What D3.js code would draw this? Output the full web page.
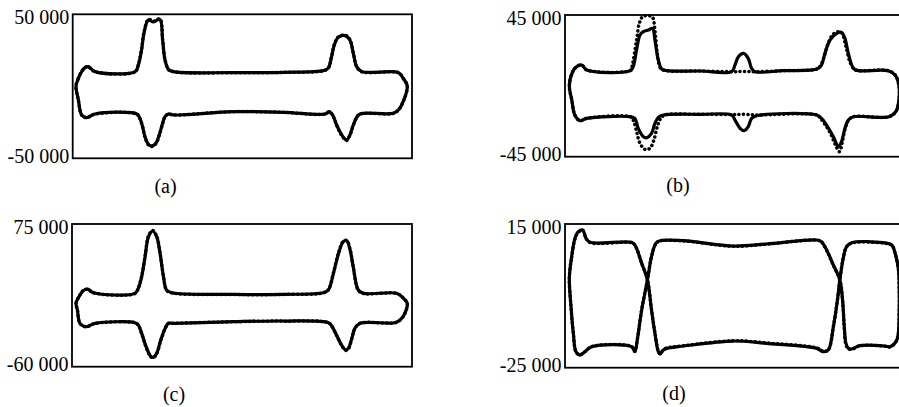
<!DOCTYPE html>
<html><head><meta charset="utf-8">
<script src="https://cdn.jsdelivr.net/npm/d3@7"></script>
<style>html,body{margin:0;padding:0;background:#fff;} svg{display:block;}</style>
</head><body><svg id="chart" width="899" height="407"></svg>
<script>
// ---------------- DATA ----------------
// x: position along the record (0–100 %), y: value
const panelNames = ["a", "b", "c", "d"];
const captions = ["(a)", "(b)", "(c)", "(d)"];

const aTicks = [-50000, 50000];
const bTicks = [-45000, 45000];
const cTicks = [-60000, 75000];
const dTicks = [-25000, 15000];

const aUpper = [[0.98,0],[1.67,5556],[2.65,10185],[3.63,12963],[4.62,13657],[6.58,10185],[18.4,10185],[19.35,14815],[20.3,25231],[21.0,36806],[22.3,46065],[23.8,44676],[25.7,46528],[26.5,32176],[27.2,18287],[28.2,11806],[29.7,10185],[47.3,9491],[62.1,9722],[73.9,10880],[75.3,12500],[76.3,20602],[77.1,28704],[78.3,34028],[80.3,35185],[81.7,32176],[82.7,22917],[83.7,13657],[85.2,10185],[96.0,9491],[97.4,5556],[98.6,231]];
const aLower = [[1.67,-9491],[2.65,-19907],[4.1,-21759],[6.58,-19213],[18.9,-19213],[19.8,-22222],[20.6,-28009],[21.3,-34954],[22.3,-40278],[23.3,-41435],[24.5,-39583],[25.5,-33796],[26.5,-25694],[27.2,-21065],[28.2,-19213],[29.7,-19907],[47.3,-17593],[62.1,-18056],[74.4,-19213],[75.6,-17593],[76.6,-19907],[77.8,-26852],[79.3,-33796],[80.7,-37269],[81.7,-33796],[82.7,-26852],[84.2,-19907],[85.7,-18750],[94.5,-18750],[96.0,-16435],[97.4,-10648]];
const aDotUpper = [[0.98,0],[1.67,5600],[2.65,10300],[3.63,13100],[4.62,13500],[6.58,10100],[18.4,10100],[19.35,15000],[20.3,25800],[21.0,37300],[22.3,46500],[23.8,45200],[25.7,46800],[26.5,32600],[27.2,18500],[28.2,11700],[29.7,10100],[47.3,9400],[62.1,9700],[73.9,10800],[75.3,12600],[76.3,20900],[77.1,29000],[78.3,34300],[80.3,35500],[81.7,32400],[82.7,23100],[83.7,13600],[85.2,10100],[96.0,9400],[97.4,5500],[98.6,200]];
const aDotLower = [[1.67,-9600],[2.65,-20000],[4.1,-21800],[6.58,-19300],[18.9,-19300],[19.8,-22400],[20.6,-28300],[21.3,-35300],[22.3,-40600],[23.3,-41800],[24.5,-39900],[25.5,-34000],[26.5,-25900],[27.2,-21200],[28.2,-19300],[29.7,-19900],[47.3,-17600],[62.1,-18100],[74.4,-19300],[75.6,-17700],[76.6,-20100],[77.8,-27100],[79.3,-34100],[80.7,-37600],[81.7,-34000],[82.7,-27000],[84.2,-20000],[85.7,-18800],[94.5,-18800],[96.0,-16500],[97.4,-10700]];

const bUpper = [[1.28,0],[2.26,9000],[3.44,12176],[4.9,13235],[6.4,10059],[19.2,9635],[20.1,12176],[21.1,22765],[22.1,32294],[23.1,34412],[24.6,35471],[25.8,36529],[26.5,29118],[27.5,16412],[28.5,10694],[30.0,9635],[39.8,9424],[49.1,9000],[50.1,13235],[51.1,18529],[52.6,20647],[54.0,17471],[55.0,11118],[56.0,9000],[64.3,9635],[74.2,10694],[75.6,13235],[76.6,20647],[78.1,29118],[80.1,33353],[81.5,33988],[82.5,30176],[83.5,20647],[85.0,11118],[86.4,9635],[95.2,9635],[97.3,6891],[98.4,540]];
const bLower = [[2.0,-9000],[2.9,-18529],[4.4,-22129],[6.4,-20647],[19.2,-19588],[20.6,-20647],[21.6,-27000],[23.1,-32294],[24.1,-32929],[25.5,-30176],[26.5,-23824],[27.5,-20012],[29.0,-18529],[39.8,-18106],[49.1,-18529],[50.1,-21706],[51.6,-27000],[52.8,-28482],[54.0,-25941],[55.0,-20647],[56.5,-18953],[74.2,-18529],[75.6,-20647],[77.1,-24882],[79.1,-32294],[80.6,-38647],[81.5,-35471],[82.5,-27000],[83.5,-21706],[85.0,-19588],[95.5,-19600],[97.6,-16000],[98.4,-8987]];
const bDotUpper = [[1.28,0],[2.26,9000],[3.44,12176],[4.9,13235],[6.4,10059],[19.2,9635],[19.6,11118],[21.1,29118],[21.9,39706],[22.9,43941],[24.6,44576],[25.8,43518],[26.5,35471],[27.2,20647],[28.2,11118],[30.0,9635],[39.8,9424],[49.1,9000],[52.6,9100],[56.0,9000],[64.3,9635],[74.2,10694],[75.2,12500],[76.3,18000],[77.4,26000],[78.9,32500],[80.3,34300],[81.5,33800],[82.8,25000],[84.0,15000],[85.3,10500],[86.4,9635],[95.2,9635],[97.3,6891],[98.4,540]];
const bDotLower = [[2.0,-9000],[2.9,-18529],[4.4,-22129],[6.4,-20647],[19.2,-19588],[20.1,-21706],[21.1,-29118],[22.1,-36529],[23.6,-40341],[25.0,-39706],[26.2,-34412],[27.2,-25941],[28.2,-20647],[29.5,-18529],[39.8,-18106],[49.1,-18200],[52.8,-18106],[56.5,-18500],[74.2,-18529],[75.3,-20647],[76.8,-25000],[78.3,-30500],[79.7,-37500],[80.9,-41824],[81.7,-36000],[82.6,-27000],[83.6,-21706],[85.0,-19588],[95.5,-19600],[97.6,-16000],[98.4,-8987]];

const cUpper = [[1.2,0],[2.35,7815],[3.3,11916],[4.6,13493],[6.3,10023],[18.5,9393],[19.5,14126],[20.5,25164],[21.5,44089],[22.5,63014],[23.7,68376],[24.9,63014],[25.9,47243],[26.9,25164],[27.8,12547],[29.3,10023],[47.5,8446],[62.2,8446],[73.9,10023],[75.4,12547],[76.9,28318],[78.4,47243],[79.8,58283],[80.8,59229],[81.8,50397],[82.7,34626],[84.2,12547],[85.7,9393],[95.5,9393],[97.5,4661],[98.6,0]];
const cLower = [[1.6,-6379],[2.35,-18996],[4.1,-22150],[6.8,-18996],[18.5,-18364],[19.5,-20572],[20.5,-28458],[21.8,-41075],[23.1,-49907],[23.9,-51168],[24.9,-47383],[26.1,-34766],[27.4,-23724],[28.3,-18996],[29.8,-18996],[47.5,-17418],[62.2,-16787],[75.4,-18364],[76.4,-21519],[77.8,-30035],[79.3,-39497],[80.5,-44229],[81.3,-42652],[82.3,-33189],[83.2,-23724],[84.7,-18996],[95.0,-18364],[96.5,-15841],[97.9,-9533]];
const cDotUpper = [[1.2,0],[2.35,7900],[3.3,12100],[4.6,13300],[6.3,9900],[18.5,9300],[19.5,14500],[20.5,25800],[21.5,44800],[22.5,63600],[23.7,68800],[24.9,63400],[25.9,47600],[26.9,25400],[27.8,12400],[29.3,9900],[47.5,8300],[62.2,8400],[73.9,9900],[75.4,12800],[76.9,28900],[78.4,47800],[79.8,58700],[80.8,59500],[81.8,50800],[82.7,34900],[84.2,12400],[85.7,9300],[95.5,9300],[97.5,4600],[98.6,0]];
const cDotLower = [[1.6,-6500],[2.35,-19100],[4.1,-22300],[6.8,-19100],[18.5,-18400],[19.5,-20800],[20.5,-28900],[21.8,-41600],[23.1,-50400],[23.9,-51600],[24.9,-47800],[26.1,-35100],[27.4,-23900],[28.3,-19100],[29.8,-19000],[47.5,-17500],[62.2,-16900],[75.4,-18400],[76.4,-21700],[77.8,-30400],[79.3,-39900],[80.5,-44600],[81.3,-43000],[82.3,-33500],[83.2,-23900],[84.7,-19000],[95.0,-18400],[96.5,-15900],[97.9,-9600]];

const dUpper = [[1.28,0],[1.96,5905],[2.95,11009],[3.93,12865],[5.2,13329],[6.2,11009],[7.4,9896],[19.6,9896],[20.6,9153],[22.6,4049],[24.3,-592],[25.5,-8943],[26.5,-15441],[27.5,-20545],[28.0,-21195],[29.0,-20081],[30.0,-19617],[34.9,-18968],[49.6,-17575],[59.4,-18225],[74.2,-19617],[76.1,-20545],[77.6,-20081],[79.1,-13585],[80.3,-6160],[81.0,-592],[82.0,5441],[83.0,8689],[84.5,9803],[93.8,9803],[96.3,9153],[97.3,6844],[98.3,2195],[98.5,-3000]];
const dLower = [[1.77,-8016],[2.46,-15441],[3.24,-20545],[4.4,-21473],[5.9,-20545],[7.9,-19153],[19.6,-19153],[20.6,-20545],[21.3,-17297],[22.6,-8943],[24.3,-592],[25.5,5905],[26.8,9617],[28.0,10360],[34.9,10360],[49.6,8875],[59.4,9432],[74.2,10545],[75.6,10081],[77.1,7761],[79.1,3584],[81.0,-592],[81.8,-6160],[82.3,-13585],[82.8,-18225],[83.5,-19617],[84.5,-19803],[86.9,-18875],[94.3,-18968],[95.8,-19155],[97.8,-17290],[98.5,-8939]];
const dDotUpper = [[1.28,0],[1.96,5800],[2.95,10900],[3.93,12700],[5.2,13200],[6.2,11000],[7.4,9800],[19.6,9800],[20.6,9100],[22.6,4100],[24.3,-500],[25.5,-8800],[26.5,-15300],[27.5,-20400],[28.0,-21100],[29.0,-20000],[30.0,-19500],[34.9,-18900],[49.6,-17500],[59.4,-18100],[74.2,-19500],[76.1,-20400],[77.6,-20000],[79.1,-13500],[80.3,-6100],[81.0,-500],[82.0,5500],[83.0,8700],[84.5,9700],[93.8,9700],[96.3,9100],[97.3,6800],[98.3,2100],[98.5,-3000]];
const dDotLower = [[1.77,-8100],[2.46,-15500],[3.24,-20600],[4.4,-21400],[5.9,-20500],[7.9,-19100],[19.6,-19100],[20.6,-20400],[21.3,-17200],[22.6,-8800],[24.3,-500],[25.5,5900],[26.8,9600],[28.0,10300],[34.9,10300],[49.6,8800],[59.4,9400],[74.2,10500],[75.6,10000],[77.1,7700],[79.1,3500],[81.0,-500],[81.8,-6100],[82.3,-13500],[82.8,-18600],[83.5,-19700],[84.5,-19900],[86.9,-18900],[94.3,-19000],[95.8,-19200],[97.8,-17300],[98.5,-8900]];

// ---------------- LAYOUT ----------------
const layout = {
  a: {x: 72.7, y: 14.3, w: 339.3, h: 144,   cap: [165.5, 193]},
  b: {x: 565,  y: 15,   w: 339.3, h: 141.7, cap: [678, 192]},
  c: {x: 72,   y: 224,  w: 340,   h: 142.7, cap: [174, 401]},
  d: {x: 565,  y: 224,  w: 339.3, h: 143.7, cap: [674, 400]}
};

const panelData = {
  a: {ticks: aTicks, upper: aUpper, lower: aLower, dotUpper: aDotUpper, dotLower: aDotLower},
  b: {ticks: bTicks, upper: bUpper, lower: bLower, dotUpper: bDotUpper, dotLower: bDotLower},
  c: {ticks: cTicks, upper: cUpper, lower: cLower, dotUpper: cDotUpper, dotLower: cDotLower},
  d: {ticks: dTicks, upper: dUpper, lower: dLower, dotUpper: dDotUpper, dotLower: dDotLower}
};

const FONT = "'Liberation Serif', 'Times New Roman', serif";
const locale = d3.formatLocale({decimal: ".", thousands: " ", grouping: [3], currency: ["", ""], minus: "-"});
const fmt = locale.format(",");

const svg = d3.select("#chart");

panelNames.forEach((name, i) => {
  const L = layout[name], D = panelData[name];
  const x = d3.scaleLinear().domain([0, 100]).range([L.x, L.x + L.w]);
  const y = d3.scaleLinear().domain(D.ticks).range([L.y + L.h, L.y]);
  const g = svg.append("g");

  g.append("rect")
    .attr("x", L.x).attr("y", L.y).attr("width", L.w).attr("height", L.h)
    .attr("fill", "none").attr("stroke", "#000").attr("stroke-width", 1.8);

  const axis = d3.axisLeft(y).tickValues(D.ticks).tickSize(0).tickPadding(3.5).tickFormat(fmt);
  const ag = g.append("g").attr("transform", `translate(${L.x},0)`).call(axis);
  ag.select(".domain").remove();
  ag.selectAll("text")
    .attr("font-family", FONT).attr("font-size", 20).attr("fill", "#000")
    .attr("dy", d => d > 0 ? "0.47em" : "0.2em");

  const line = d3.line()
    .x(d => x(d[0])).y(d => y(d[1]))
    .curve(d3.curveCatmullRomClosed.alpha(0.5));

  const solidPts = D.upper.concat(D.lower.slice().reverse());
  const dotPts = D.dotUpper.concat(D.dotLower.slice().reverse());

  g.append("path").attr("d", line(solidPts))
    .attr("fill", "none").attr("stroke", "#000").attr("stroke-width", 3.2)
    .attr("stroke-linejoin", "round");

  g.append("path").attr("d", line(dotPts))
    .attr("fill", "none").attr("stroke", "#000").attr("stroke-width", 3.5)
    .attr("stroke-linecap", "round").attr("stroke-dasharray", "0.1 4.4");

  g.append("text")
    .attr("x", L.cap[0]).attr("y", L.cap[1])
    .attr("text-anchor", "middle")
    .attr("font-family", FONT).attr("font-size", 20).attr("fill", "#000")
    .text(captions[i]);
});
</script>
</body></html>
